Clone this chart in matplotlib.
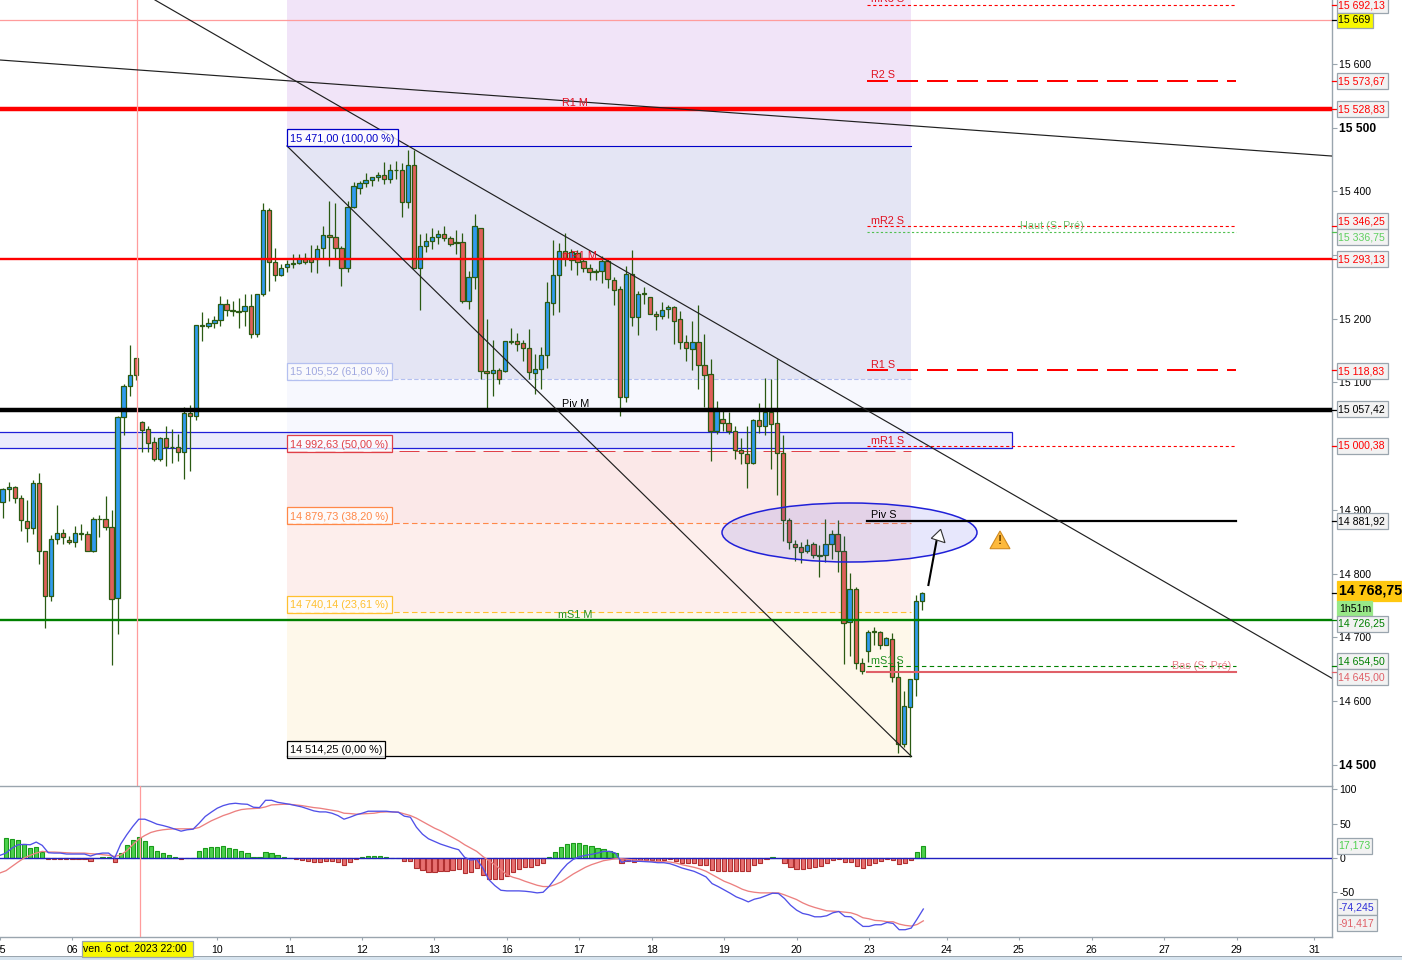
import matplotlib
matplotlib.use("Agg")
import numpy as np
import matplotlib.pyplot as plt
from matplotlib.patches import Rectangle, Ellipse, Polygon

plt.rcParams['font.family'] = ['Liberation Sans', 'DejaVu Sans']

# 2h candles
opens = [14912,14933,14936,14919,14882,14871,14942,14835,14765,14854,
         14864,14853,14849,14862,14862,14836,14885,14886,14873,14761,
         15046,15094,15138,15038,15027,15006,14979,15013,14999,14998,
         14990,15052,15047,15190,15188,15194,15198,15223,15214,15212,
         15212,15220,15176,15239,15371,15289,15269,15281,15287,15288,
         15295,15294,15294,15311,15331,15328,15311,15280,15375,15405,
         15413,15418,15423,15426,15419,15433,15433,15383,15441,15280,
         15314,15322,15328,15333,15327,15320,15320,15228,15266,15342,
         15118,15115,15120,15118,15165,15165,15162,15154,15115,15121,
         15143,15225,15269,15307,15292,15303,15290,15279,15273,15275,
         15291,15261,15247,15077,15270,15203,15239,15234,15207,15204,
         15215,15218,15200,15163,15152,15163,15127,15113,15023,15043,
         15036,15023,14994,14988,14974,15041,15032,15054,15036,14989,
         14884,14847,14841,14835,14846,14829,14829,14847,14862,14835,
         14724,14776,14660,14678,14708,14708,14688,14697,14638,14532,
         14590,14634,14757]
highs = [14934,14944,14938,14924,14916,14946,14957,14835,14860,14907,
         14870,14859,14874,14877,14867,14889,14892,14921,14899,15048,
         15097,15159,15138,15040,15031,15015,15015,15032,15027,15019,
         15061,15065,15190,15211,15201,15204,15236,15231,15228,15233,
         15238,15238,15239,15382,15374,15311,15286,15292,15302,15302,
         15303,15316,15316,15345,15385,15382,15314,15384,15415,15416,
         15429,15423,15430,15446,15443,15447,15444,15465,15465,15333,
         15335,15342,15339,15345,15330,15340,15335,15275,15364,15342,
         15200,15167,15122,15165,15185,15178,15166,15184,15144,15156,
         15257,15324,15319,15335,15310,15308,15296,15286,15278,15299,
         15295,15266,15251,15282,15308,15244,15250,15234,15212,15226,
         15222,15220,15212,15175,15197,15222,15176,15137,15071,15056,
         15053,15032,15013,15032,15043,15068,15107,15105,15136,15017,
         14887,14853,14849,14854,14850,14845,14886,14868,14884,14859,
         14801,14779,14667,14711,14716,14710,14700,14707,14663,14616,
         14634,14766,14771]
lows = [14887,14914,14910,14866,14849,14862,14815,14714,14757,14847,
        14846,14847,14842,14852,14835,14833,14858,14869,14657,14705,
        15017,15079,15104,14990,14990,14976,14977,14969,14973,14976,
        14948,14961,15041,15165,15185,15185,15188,15204,15204,15185,
        15189,15169,15171,15236,15244,15259,15267,15273,15280,15286,
        15286,15274,15271,15296,15282,15294,15251,15274,15374,15396,
        15407,15409,15416,15412,15413,15419,15359,15373,15280,15213,
        15305,15310,15318,15322,15314,15302,15224,15215,15246,15105,
        15058,15079,15098,15116,15161,15149,15134,15105,15082,15089,
        15123,15206,15210,15282,15277,15269,15273,15260,15260,15256,
        15248,15222,15048,15069,15188,15175,15223,15207,15183,15199,
        15201,15161,15152,15134,15120,15090,15062,14977,15019,15024,
        15019,14979,14972,14935,14972,15020,15017,14964,14923,14851,
        14838,14819,14816,14832,14825,14794,14818,14822,14802,14658,
        14670,14650,14643,14661,14687,14681,14687,14629,14518,14527,
        14512,14608,14743]
closes = [14933,14936,14918,14884,14871,14942,14835,14765,14854,14864,
          14858,14849,14864,14863,14836,14886,14886,14873,14760,15046,
          15094,15112,15112,15025,15005,14979,15013,14998,14998,14990,
          15052,15047,15190,15189,15194,15198,15223,15214,15212,15211,
          15220,15176,15239,15371,15289,15269,15280,15286,15286,15295,
          15289,15289,15310,15331,15328,15311,15280,15375,15408,15413,
          15418,15423,15426,15419,15433,15433,15383,15441,15280,15314,
          15322,15328,15333,15327,15318,15319,15228,15266,15346,15118,
          15115,15120,15105,15165,15164,15161,15154,15116,15121,15143,
          15226,15269,15307,15296,15304,15289,15279,15273,15275,15291,
          15262,15245,15077,15270,15203,15239,15240,15208,15204,15214,
          15218,15197,15163,15154,15163,15127,15111,15023,15060,15036,
          15023,14994,14989,14974,15041,15031,15054,15035,14989,14884,
          14850,14842,14833,14845,14829,14827,14847,14862,14835,14723,
          14776,14659,14647,14708,14708,14688,14699,14638,14532,14592,
          14634,14757,14768.75]

# MACD pane
macd_hist = [29,27.5,26,20,14.5,16,8.7,-1.5,-1.5,-1.5,
             -1.5,-1.5,-1.5,-1.5,-3.9,0,2,2,-6.3,7,
             19,26,30.4,24.6,17.4,10,7.2,4.3,2,-1.5,
             0,0,10,14.5,16,16,17.4,14.5,13,10,
             7.2,2,2,8.7,7.2,4.3,2,0,-1.5,-3.4,
             -4.3,-6,-6,-4.8,-4.8,-5.5,-10.6,-6,-1.5,2,
             3,3,3,2,0,0,-4.8,-4.8,-14.5,-18,
             -20,-20.5,-19,-19,-18,-16.5,-22,-20.5,-14.5,-25,
             -30.4,-31,-31,-26.6,-20.8,-16.4,-13.5,-13.5,-10,-7.2,
             2,8.7,16,20.3,21.7,21.7,18.8,17.4,14.5,13,
             10,7.2,-7.7,-4.3,-5.3,-3,-3,-3,-3.9,-3,
             -2,-3.9,-7.2,-7.7,-7.7,-9.7,-10.6,-17.9,-18.4,-18.4,
             -18.4,-19.3,-18.4,-18.4,-10,-7.7,-2,2,0,-7.7,
             -13.5,-16.4,-16.4,-14.5,-13.5,-12,-7.7,-3,-2,-6.3,
             -6.3,-12,-15,-10.6,-7.7,-4.8,-2,-3,-9.2,-7.7,
             -3.4,8.7,17.17]
# both lines start one bar before the first candle, at the left edge
macd_line = [3.9,7.2,14.5,19.3,19.8,19.3,23.2,18.4,7.7,7.2,7.2,
             5.8,5.8,5.8,5.8,2.9,5.8,7.2,7.2,0,20.3,
             33.8,45.9,56.5,56.5,53.1,49.3,47.3,44.9,42,39.1,
             41.1,42,50.7,60.4,66.7,72.5,76.3,78.7,79.7,78.7,
             78.2,73.9,73.4,84,84,81.1,79.7,78.2,76.3,74.4,
             71.5,68.6,67.1,67.1,65.2,61.8,56.5,59.4,62.8,65.2,
             68.1,68.1,68.1,68.1,67.1,66.7,60.9,59.4,44.9,34.8,
             28,24.2,20.3,17.4,14.5,12.1,1,-2.9,-1.9,-14.5,
             -31.4,-40.1,-46.9,-47.8,-47.8,-47.8,-48.3,-49.3,-50.7,-49.8,
             -41.1,-29.9,-18.4,-8.7,-1.9,1.9,3.9,5.3,7.2,9.7,
             9.7,7.2,-6.3,-3.9,-4.8,-4.8,-5.3,-5.8,-6.8,-6.8,
             -8.2,-11.1,-14.5,-16.9,-19.3,-23.2,-27.5,-37.2,-41.5,-46.4,
             -51.2,-56.5,-59.9,-63.8,-59.9,-57.9,-54.6,-51.2,-51.6,-58.9,
             -68.6,-75.8,-80.6,-82.5,-85.5,-85.5,-84,-79.7,-77.8,-85,
             -85.5,-92.7,-99.5,-99.5,-97.1,-97.1,-93.7,-95.2,-104.3,-104.3,
             -101.9,-88.4,-74.2]
signal_line = [-21.7,-18.4,-12.1,-5.8,0,3.9,7.2,9.7,8.7,8.7,8.2,
               7.7,7.2,7.2,7.2,6.3,5.8,4.8,3.9,2.4,4.3,
               10.6,19.3,27.5,32.8,37.2,39.6,41.1,42,42.5,42.5,
               42.5,42.5,44.4,49.3,54.1,58,61.8,64.7,68.1,70.5,
               71.5,72,72.5,74.4,77.3,77.8,78.2,78.2,77.3,76.3,
               74.9,73.4,72.5,71,69.6,68.1,65.2,64.7,63.8,64.2,
               64.7,65.2,66.7,67.1,67.1,66.7,64.2,61.8,58,53.1,
               48.3,43.5,39.6,34.8,30,25.1,19.3,14.5,9.7,2.4,
               -3.9,-9.7,-16.9,-24.2,-28,-30.4,-33.8,-36.7,-39.6,-41.5,
               -41.5,-38.6,-34.8,-29,-23.2,-18.4,-13.5,-9.7,-6.8,-3.9,
               -2.4,-1,-1,-1.9,-2.9,-3.9,-4.3,-4.8,-5.3,-5.3,
               -5.8,-7.2,-9.7,-11.6,-13.5,-15.9,-19.3,-24.2,-29,-33.8,
               -37.2,-41.1,-45.4,-48.3,-49.8,-50.7,-50.7,-50.7,-50.7,-53.6,
               -57,-60.4,-65.2,-69,-71.9,-74.4,-76.8,-77.3,-77.8,-78.7,
               -79.7,-82.5,-86.9,-88.4,-90.8,-91.3,-92.7,-92.7,-96.1,-98,
               -99,-96.6,-91.4]

# levels
fib_levels = [15471.00, 15105.52, 14992.63, 14879.73, 14740.14, 14514.25]
fib_labels = ["15 471,00 (100,00 %)", "15 105,52 (61,80 %)", "14 992,63 (50,00 %)",
              "14 879,73 (38,20 %)", "14 740,14 (23,61 %)", "14 514,25 (0,00 %)"]
fib_top = 15700
r1_m, mr1_m, piv_m, ms1_m = 15528.83, 15293.13, 15057.42, 14726.25
r2_s, r1_s, piv_s = 15573.67, 15118.83, 14881.92
mr3_s, mr2_s, mr1_s, ms1_s = 15692.13, 15346.25, 15000.38, 14654.50
haut_s, bas_s = 15336.75, 14645.00
cross_level = 15669
band = (14997.6, 15022.7)
price_ticks = [15600, 15500, 15400, 15300, 15200, 15100, 15000, 14900, 14800, 14700, 14600, 14500]
date_ticks = [-1, 11, 35, 47, 59, 71, 83, 95, 107, 119, 131, 143, 155.9, 167.8, 179.9, 191.9, 203.9, 216.8]
date_labels = ["05", "06", "10", "11", "12", "13", "16", "17", "18", "19", "20", "23",
               "24", "25", "26", "27", "29", "31"]

W, H = 1402, 960
STEP = 6.05
X0 = 2.67
RIGHT = 1331.5
GREY = '#9AA5AE'
RED = '#FF0000'
GREEN = '#008000'
BLUE = '#2020D8'


def fx(x):
    return x / W


def fy(y):
    return 1 - y / H


def px(x):
    # picture column to bar number
    return (x - X0) / STEP


def pr(y):
    # picture row to price
    return 15500 - (y - 127.6) / 0.637


def lbl(x, y, s, color='black', size=7.8, **kw):
    fig.text(fx(x), fy(y + 1), s, color=color, fontsize=size, va='center', **kw)


def tag(y, s, color, x1=1387.5, fc='#F2F2F2', ec=GREY, h=16, size=7.6, weight='normal', x0=1336.5):
    fig.add_artist(Rectangle((fx(x0), fy(y + h / 2)), (x1 - x0) / W, h / H, transform=fig.transFigure,
                             fc=fc, ec=ec, lw=0.9, zorder=2))
    fig.text(fx(x0 + 2), fy(y), s, color=color, fontsize=size, va='center', fontweight=weight, zorder=3)


fig = plt.figure(figsize=(W / 100, H / 100), dpi=100)
ax = fig.add_axes([0, fy(786), RIGHT / W, 786 / H])
ax2 = fig.add_axes([0, fy(937), RIGHT / W, (937 - 786) / H])

n = len(closes)
x = np.arange(n)

# fibonacci zones
x_a, x_b = 47, px(911)
zone_edges = [fib_top] + fib_levels
zone_cols = ['#F1E4F8', '#E4E5F4', '#F7F8FE', '#FBE8E8', '#FDEEEC', '#FEF8EA']
for k in range(6):
    ax.add_patch(Rectangle((x_a, zone_edges[k + 1]), x_b - x_a, zone_edges[k] - zone_edges[k + 1],
                           fc=zone_cols[k], ec='none', zorder=1))
ax.plot([x_a, x_b], [fib_levels[0]] * 2, color='#0000C8', lw=0.8, zorder=2)
ax.plot([x_a, x_b], [fib_levels[1]] * 2, color='#B4C0F0', lw=0.8, ls=(0, (4, 2)), zorder=2)
ax.plot([x_a, x_b], [fib_levels[2]] * 2, color='#E04048', lw=0.72, ls=(0, (20, 8)), zorder=2)
ax.plot([x_a, x_b], [fib_levels[3]] * 2, color='#FF8848', lw=0.8, ls=(0, (5, 3)), zorder=2)
ax.plot([x_a, x_b], [fib_levels[4]] * 2, color='#FFC030', lw=0.8, ls=(0, (5, 3)), zorder=2)
ax.plot([x_a, x_b], [fib_levels[5]] * 2, color='black', lw=0.9, zorder=2)

# candles
up_col, down_col, edge_col = '#2F9BEE', '#E0605A', '#2A5A12'
o, h, l, c = map(np.array, (opens, highs, lows, closes))
ax.vlines(x, l, h, color=edge_col, lw=0.9, zorder=3)
cols = [up_col if c[i] >= o[i] else down_col for i in range(n)]
ax.bar(x, np.maximum(np.abs(c - o), 1), bottom=np.minimum(o, c), width=0.72, color=cols,
       edgecolor=edge_col, linewidth=0.9, zorder=3.1)

# horizontal levels
ax.axhline(cross_level, color='#FF9C9C', lw=0.9, zorder=4)
ax.axhline(r1_m, color=RED, lw=3.2, zorder=4)
ax.axhline(mr1_m, color=RED, lw=1.7, zorder=4)
ax.axhline(piv_m, color='black', lw=3.2, zorder=4)
ax.axhline(ms1_m, color=GREEN, lw=1.7, zorder=4)
ax.axvline(px(136.5), color='#FF9C9C', lw=0.9, zorder=4)
ax2.axvline(px(136.5), color='#FF9C9C', lw=0.9, zorder=4)

# support zone band and ellipse
ax.add_patch(Rectangle((-5, band[0]), px(1012) + 5, band[1] - band[0], fc=(0.2, 0.2, 0.9, 0.09),
                       ec=BLUE, lw=0.9, zorder=2.5))
ax.add_patch(Ellipse((px(849.5), pr(532.5)), 255 / STEP, 59 / 0.637, fc=(0.15, 0.15, 0.9, 0.11),
                     ec=BLUE, lw=1.1, zorder=4))

# weekly levels, right part
s_a, s_b = px(867), px(1236)
ax.plot([s_a, s_b], [r2_s] * 2, color=RED, lw=1.44, ls=(0, (10.5, 4.5)), zorder=4)
ax.plot([s_a, s_b], [r1_s] * 2, color=RED, lw=1.44, ls=(0, (10.5, 4.5)), zorder=4)
ax.plot([s_a, s_b], [piv_s] * 2, color='black', lw=1.6, zorder=4)
ax.plot([s_a, s_b], [mr3_s] * 2, color=RED, lw=0.8, ls=(0, (2.8, 2.4)), zorder=4)
ax.plot([s_a, s_b], [mr2_s] * 2, color=RED, lw=0.8, ls=(0, (2.8, 2.4)), zorder=4)
ax.plot([s_a, s_b], [mr1_s] * 2, color=RED, lw=0.8, ls=(0, (2.8, 2.4)), zorder=4)
ax.plot([s_a, s_b], [ms1_s] * 2, color=GREEN, lw=0.8, ls=(0, (4, 3)), zorder=4)
ax.plot([s_a, s_b], [haut_s] * 2, color='#50C050', lw=0.8, ls=(0, (2, 2)), zorder=4)
ax.plot([s_a, s_b], [bas_s] * 2, color='#E06068', lw=1.5, zorder=4)

# trend lines
for (xa, ya, xb, yb) in [(0, 60, RIGHT, 156), (155, 0, RIGHT, 678), (287, 146, 911, 756)]:
    ax.plot([px(xa), px(xb)], [pr(ya), pr(yb)], color='#202020', lw=0.85, zorder=4.5)

# arrow and warning sign
ax.plot([px(928.4), px(936.7)], [pr(585), pr(540)], color='black', lw=1.5, zorder=5)
ax.add_patch(Polygon([(px(940.7), pr(529.3)), (px(931.3), pr(538.3)), (px(945), pr(542.7))],
                     fc='white', ec='#303030', lw=0.8, zorder=5.5))
ax.add_patch(Polygon([(px(1000), pr(531)), (px(990), pr(548.7)), (px(1010), pr(548.7))],
                     fc='#FDB93C', ec='#D08A20', lw=0.8, zorder=5))
ax.text(px(1000), pr(541.5), '!', color='#704400', fontsize=9, fontweight='bold', ha='center', va='center', zorder=6)

ax.set_xlim(px(0), px(RIGHT))
ax.set_ylim(pr(786), pr(0))
ax.set_xticks([])
ax.set_yticks(price_ticks)
ax.set_yticklabels([f"{t // 1000} {t % 1000:03d}" for t in price_ticks])
ax.yaxis.tick_right()
ax.tick_params(axis='y', length=3.6, width=0.8, color=GREY, pad=2, labelsize=7.6)
for t, lab in zip(price_ticks, ax.get_yticklabels()):
    if t in (15500, 14500):
        lab.set_fontweight('bold')
        lab.set_fontsize(8.7)
for side in ('left', 'top', 'bottom'):
    ax.spines[side].set_visible(False)
ax.spines['right'].set_color(GREY)
ax.spines['right'].set_linewidth(1.0)

# small coloured marks on the axis
yt = ax.get_yaxis_transform()
for lev, col in [(mr3_s, RED), (cross_level, 'black'), (r2_s, RED), (r1_m, RED), (mr2_s, RED),
                 (haut_s, '#50C050'), (mr1_m, RED), (r1_s, RED), (piv_m, 'black'), (mr1_s, RED),
                 (piv_s, 'black'), (closes[-1], 'black'), (ms1_m, GREEN), (ms1_s, GREEN), (bas_s, '#E06068')]:
    ax.plot([1.0, 1.0037], [lev, lev], transform=yt, color=col, lw=0.9, clip_on=False, zorder=6)
ax.set_ylim(pr(786), pr(0))

# MACD pane
bar_cols = ['#4CD04C' if v >= 0 else '#E87070' for v in macd_hist]
bar_edge = ['#1A9A1A' if v >= 0 else '#B03030' for v in macd_hist]
ax2.bar(x, macd_hist, width=0.7, color=bar_cols, edgecolor=bar_edge, linewidth=0.8, zorder=2)
ax2.axhline(0, color='#2020C0', lw=1.0, zorder=3)
line_x = np.arange(-1, n)
ax2.plot(line_x, signal_line, color='#EC8080', lw=0.95, zorder=4)
ax2.plot(line_x, macd_line, color='#5050E8', lw=0.95, zorder=4)
ax2.set_xlim(px(0), px(RIGHT))
ax2.set_ylim(-114.9, 104.8)
ax2.set_xticks(date_ticks)
ax2.set_xticklabels(date_labels)
ax2.tick_params(axis='x', length=2.5, width=0.8, color=GREY, pad=3.5, labelsize=7.6)
ax2.set_yticks([100, 50, 0, -50])
ax2.set_yticklabels(['100', '50', '0', '-50'])
ax2.get_yticklabels()[0].set_va('top')
ax2.yaxis.tick_right()
ax2.tick_params(axis='y', length=3.6, width=0.8, color=GREY, pad=2, labelsize=7.6)
ax2.spines['left'].set_visible(False)
for side in ('top', 'bottom', 'right'):
    ax2.spines[side].set_color(GREY)
    ax2.spines[side].set_linewidth(1.0)

# fib labels with boxes
fib_cols = ['#0000C8', '#B4C0F0', '#E04048', '#FF8848', '#FFC030', 'black']
fib_rows = [137.5, 371, 443.5, 515.5, 604, 749]
fib_box_r = [397.5, 391.5, 391.5, 391.5, 391.5, 385]
for s, col, row, r in zip(fib_labels, fib_cols, fib_rows, fib_box_r):
    fig.add_artist(Rectangle((fx(286.5), fy(row + 8.5)), (r - 286.5) / W, 17 / H, transform=fig.transFigure,
                             fc=(1, 1, 1, 0.8), ec=col, lw=0.9, zorder=2))
    lbl(289.5, row, s, col if col != '#B4C0F0' else '#A0A8E0', zorder=3)

# level names
lbl(562, 101.5, 'R1 M', '#E01020')
lbl(562, 255, 'mR1 M', '#E01020')
lbl(562, 403, 'Piv M', 'black')
lbl(558, 614, 'mS1 M', '#209020')
lbl(871, -1.5, 'mR3 S', '#E01020')
lbl(871, 74.5, 'R2 S', '#E01020')
lbl(871, 219.5, 'mR2 S', '#E01020')
lbl(1020, 225, 'Haut (S. Pré)', '#70C070')
lbl(871, 364.5, 'R1 S', '#E01020')
lbl(871, 439.5, 'mR1 S', '#E01020')
lbl(871, 514.5, 'Piv S', 'black')
lbl(871, 659.5, 'mS1 S', '#209020')
lbl(1172, 665, 'Bas (S. Pré)', '#E88088')

# value tags on the price axis
tag(5, '15 692,13', RED)
tag(20, '15 669', 'black', x1=1373, fc='#F8F800', h=15)
tag(81, '15 573,67', RED)
tag(109, '15 528,83', RED)
tag(221, '15 346,25', RED)
tag(237, '15 336,75', '#60D060')
tag(259.5, '15 293,13', RED)
tag(371, '15 118,83', RED)
tag(409.5, '15 057,42', 'black')
tag(446, '15 000,38', RED)
tag(521, '14 881,92', 'black')
tag(590.5, '14 768,75', 'black', x1=1402, fc='#FFC810', ec='#FFC810', h=20, size=10.2, weight='bold', x0=1337)
tag(608.5, '1h51m', 'black', x1=1372, fc='#98E888', ec='#98E888', h=16, x0=1337)
tag(624, '14 726,25', GREEN)
tag(661, '14 654,50', GREEN)
tag(677, '14 645,00', '#E06068')

# value tags on the MACD pane
tag(845.5, '17,173', '#50D050', x1=1371.5)
tag(907, '-74,245', '#3030D8', x1=1376.5)
tag(923, '-91,417', '#E06068', x1=1376.5)

# date under the crosshair
fig.add_artist(Rectangle((fx(81.5), fy(957)), 111 / W, 16 / H, transform=fig.transFigure,
                         fc='#F8F800', ec=GREY, lw=0.9, zorder=2))
fig.text(fx(83), fy(949.5), 'ven. 6 oct. 2023 22:00', color='black', fontsize=7.6, va='center', zorder=3)

# strip under the chart
fig.add_artist(Rectangle((0, 0), 1, 3.5 / H, transform=fig.transFigure, fc='#D6E3EE', ec='none', zorder=1))
fig.add_artist(Rectangle((0, 3 / H), 1, 1 / H, transform=fig.transFigure, fc=GREY, ec='none', zorder=1))

fig.savefig('out.png', dpi=100)
